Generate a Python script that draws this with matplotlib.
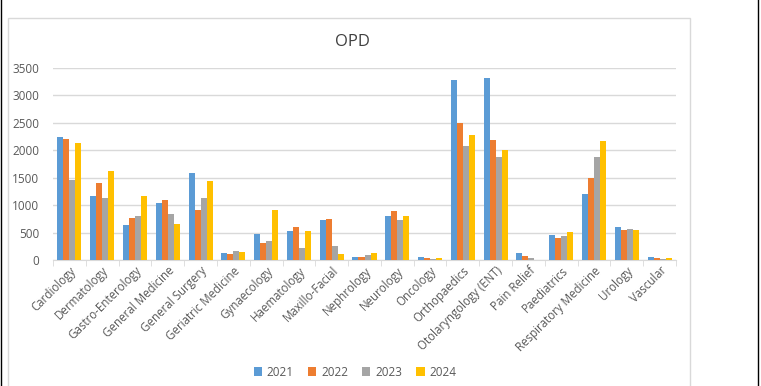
import matplotlib
matplotlib.use('Agg')
import matplotlib.pyplot as plt
from matplotlib.lines import Line2D
from matplotlib.patches import Rectangle
import numpy as np

departments = ['Cardiology', 'Dermatology', 'Gastro-Enterology', 'General Medicine',
               'General Surgery', 'Geriatric Medicine', 'Gynaecology', 'Haematology',
               'Maxillo-Facial', 'Nephrology', 'Neurology', 'Oncology', 'Orthopaedics',
               'Otolaryngology (ENT)', 'Pain Relief', 'Paediatrics',
               'Respiratory Medicine', 'Urology', 'Vascular']
years = ['2021', '2022', '2023', '2024']
opd_2021 = [2235, 1170, 645, 1040, 1585, 133, 473, 530, 728, 61, 807, 49, 3276, 3312, 133, 461, 1201, 600, 49]
opd_2022 = [2205, 1400, 770, 1092, 910, 109, 303, 600, 740, 61, 886, 30, 2505, 2184, 67, 400, 1486, 540, 30]
opd_2023 = [1456, 1122, 807, 843, 1122, 158, 340, 218, 261, 91, 734, 24, 2087, 1874, 30, 443, 1874, 564, 18]
opd_2024 = [2130, 1620, 1171, 655, 1438, 146, 910, 528, 109, 127, 801, 30, 2275, 2002, 5, 516, 2172, 546, 36]
colors = ['#5B9BD5', '#ED7D31', '#A5A5A5', '#FFC000']

plt.rcParams['font.family'] = ['Open Sans', 'DejaVu Sans']
W, H = 761, 386
fig = plt.figure(figsize=(W / 100, H / 100), dpi=100)

# chart frame and page borders
fig.add_artist(Rectangle((8 / W, -0.01), (690 - 8) / W, 1 - 18 / H + 0.01,
                         transform=fig.transFigure, fill=False, ec='#D9D9D9', lw=1))
fig.add_artist(Line2D([1.5 / W, 1.5 / W], [0, 1], transform=fig.transFigure, color='black', lw=1))
fig.add_artist(Line2D([757.5 / W, 757.5 / W], [0, 1], transform=fig.transFigure, color='black', lw=1))

ax = fig.add_axes([53 / W, 1 - 260 / H, (676 - 53) / W, (260 - 68) / H])
x = np.arange(len(departments))
bw = 0.183
for i, (vals, yr) in enumerate(zip([opd_2021, opd_2022, opd_2023, opd_2024], years)):
    ax.bar(x + (i - 1.5) * bw, vals, bw, color=colors[i], label=yr, zorder=3)

ax.set_xlim(-0.5, len(departments) - 0.5)
ax.set_ylim(0, 3500)
ax.set_yticks(range(0, 3501, 500))
ax.grid(axis='y', color='#D9D9D9', lw=1, zorder=0)
for s in ['top', 'right', 'left']:
    ax.spines[s].set_visible(False)
ax.spines['bottom'].set_color('#D9D9D9')
ax.tick_params(axis='y', length=0, labelsize=8.5, labelcolor='#595959', pad=10)
ax.set_xticks(np.arange(len(departments) + 1) - 0.5, minor=True)
ax.tick_params(axis='x', which='minor', length=4, color='#D9D9D9')
ax.set_xticks(x)
ax.set_xticklabels(departments, rotation=45, ha='right', rotation_mode='anchor',
                   fontsize=8.3, color='#595959')
ax.tick_params(axis='x', which='major', length=0, pad=3)

fig.text(352 / W, 1 - 42 / H, 'OPD', ha='center', va='center', fontsize=12, color='#404040')
fig.legend(loc='center', bbox_to_anchor=(355 / W, 1 - 372 / H), ncol=4, frameon=False,
           fontsize=8.5, handlelength=0.7, handleheight=0.7, handletextpad=0.4,
           columnspacing=1.2, labelcolor='#595959')

fig.savefig('out.png', dpi=100)
